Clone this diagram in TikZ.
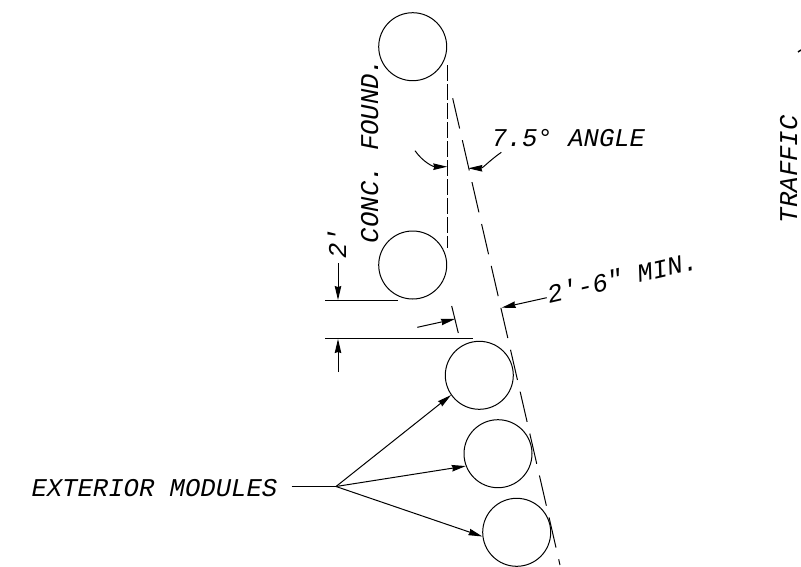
\documentclass[tikz,border=0pt]{standalone}
\usepackage{fontspec}
\newfontfamily\cadfont{Liberation Mono}
\usetikzlibrary{arrows.meta}
\tikzset{
    module/.style={draw, circle, minimum size=68pt, inner sep=0pt},
    lettering/.style={font=\fontsize{25.6}{30}\cadfont\itshape, inner sep=0pt, anchor=base west},
    dimline/.style={-{Stealth[length=14pt, width=6.5pt, inset=1pt]}},
    centerdash/.style={dash pattern=on 16pt off 3pt},
    slantdash/.style={dash pattern=on 31pt off 12pt}
}
\begin{document}
\begin{tikzpicture}[x=1pt, y=-1pt, line width=1pt]
    \useasboundingbox (0, 0) rectangle (801, 566);
    % modules
    \node[module] (moda) at (412.7, 46.7) {};
    \node[module] (modb) at (412.7, 265) {};
    \node[module] (modc) at (479.3, 375.3) {};
    \node[module] (modd) at (498, 453.7) {};
    \node[module] (mode) at (516.7, 532.3) {};
    % reference lines
    \coordinate (vtop) at (447, 65);
    \coordinate (vbot) at (447, 248);
    \coordinate (stop) at (452.7, 98.3);
    \coordinate (sbot) at (560, 565);
    \draw[centerdash] (vtop) -- (vbot);
    \draw[slantdash] (stop) -- (sbot);
    % angle
    \coordinate (angla) at (415, 150.7);
    \coordinate (anglb) at (447.3, 166.7);
    \coordinate (anglc) at (501.3, 152.3);
    \coordinate (angld) at (468.3, 168.3);
    \draw[dimline] (angla) to[out=-55, in=180] (anglb);
    \draw[dimline] (anglc) to[out=-145, in=0] (angld);
    \node[lettering] (lblangle) at (491, 146.7) {7.5° ANGLE};
    % clearance
    \coordinate (mina) at (546.7, 297.7);
    \coordinate (minb) at (501.7, 307.7);
    \draw[dimline] (mina) -- (minb);
    \node[lettering, rotate=13] (lblmin) at (549, 303.5) {2'-6" MIN.};
    % foundation
    \node[lettering, rotate=90] (lblfound) at (378, 243.5) {CONC. FOUND.};
    \coordinate (tickc) at (451.7, 306);
    \coordinate (tickd) at (458.3, 333);
    \coordinate (tickm) at (455, 319);
    \coordinate (ticks) at (417.3, 327.3);
    \draw (tickc) -- (tickd);
    \draw[dimline] (ticks) -- (tickm);
    % two foot dimension
    \coordinate (hla) at (325, 300);
    \coordinate (hlb) at (398, 300);
    \coordinate (hlc) at (325, 338.7);
    \coordinate (hld) at (473, 338.7);
    \draw (hla) -- (hlb);
    \draw (hlc) -- (hld);
    \coordinate (upa) at (338, 263);
    \coordinate (upb) at (338, 300);
    \coordinate (loa) at (338, 372);
    \coordinate (lob) at (338, 339);
    \draw[dimline] (upa) -- (upb);
    \draw[dimline] (loa) -- (lob);
    \node[lettering, rotate=90] (lbltwo) at (346, 259) {2'};
    % exterior modules
    \node[lettering] (lblext) at (31, 496) {EXTERIOR MODULES};
    \coordinate (extlead) at (291.7, 486.5);
    \coordinate (hub) at (336, 486.5);
    \draw (extlead) -- (hub);
    \draw[dimline] (hub) -- (modc.215);
    \draw[dimline] (hub) -- (modd.201);
    \draw[dimline] (hub) -- (mode.187);
    % traffic
    \node[lettering, rotate=90] (lbltraffic) at (797, 223.5) {TRAFFIC};
    \draw[line width=1.5pt] (798, 52) -- (801, 50);
\end{tikzpicture}
\end{document}
